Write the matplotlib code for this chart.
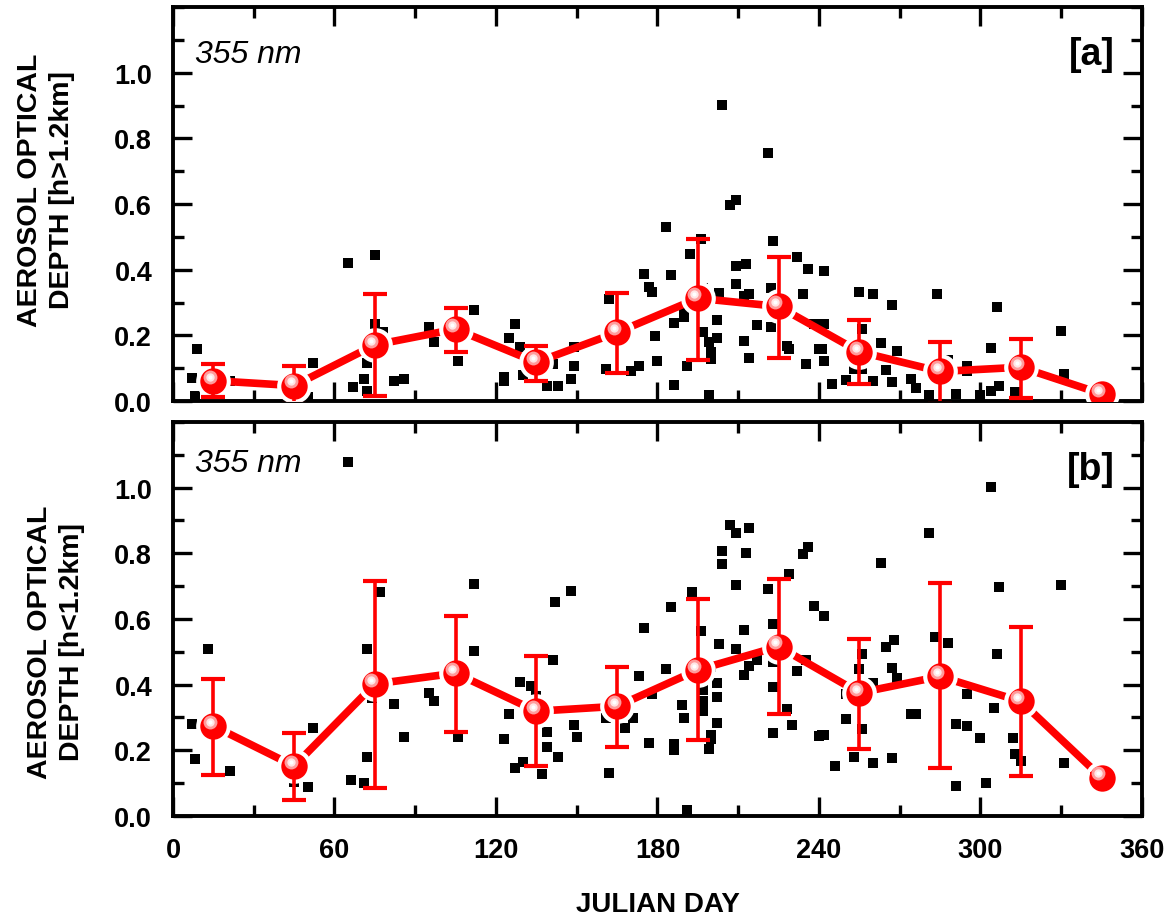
import matplotlib
matplotlib.use("Agg")
import matplotlib.pyplot as plt
import matplotlib.transforms as mtransforms
import numpy as np

plt.rcParams['font.family'] = ['Liberation Sans', 'DejaVu Sans']

# monthly means (centre day of each 30-day bin)
mean_day = [15, 45, 75, 105, 135, 165, 195, 225, 255, 285, 315, 345]

# panel [a]: h > 1.2 km
mean_a = [0.062, 0.047, 0.171, 0.219, 0.118, 0.209, 0.313, 0.288, 0.150, 0.090, 0.103, 0.022]
hi_a = [0.113, 0.108, 0.325, 0.282, 0.168, 0.330, 0.495, 0.439, 0.246, 0.181, 0.189, 0.026]
lo_a = [0.013, -0.010, 0.014, 0.150, 0.062, 0.086, 0.126, 0.131, 0.052, -0.010, 0.009, 0.018]

# panel [b]: h < 1.2 km
mean_b = [0.274, 0.152, 0.402, 0.435, 0.319, 0.334, 0.445, 0.516, 0.375, 0.425, 0.349, 0.117]
hi_b = [0.417, 0.254, 0.715, 0.609, 0.488, 0.455, 0.661, 0.723, 0.538, 0.708, 0.574, 0.127]
lo_b = [0.125, 0.049, 0.085, 0.255, 0.151, 0.211, 0.230, 0.309, 0.203, 0.145, 0.122, 0.107]

# daily values, panel [a]
day_a = [9, 7, 8, 21, 52, 50, 65, 75, 75, 78, 72, 71, 67, 72, 82, 86, 95, 97, 112, 106,
         127, 125, 129, 123, 123, 130, 141, 139, 143, 149, 148, 149, 162, 161, 170, 173,
         175, 177, 178, 183, 185, 179, 180, 186, 186, 190, 190, 191, 192, 196, 197, 197,
         199, 200, 200, 199, 202, 202, 203, 204, 207, 209, 209, 209, 213, 212, 214, 217,
         212, 214, 221, 223, 222, 222, 232, 236, 234, 228, 229, 235, 238, 240, 242, 242,
         241, 242, 245, 250, 255, 260, 267, 256, 253, 256, 260, 263, 265, 267, 269, 274,
         276, 281, 284, 288, 291, 295, 295, 300, 300, 304, 307, 304, 306, 313, 330, 331]
aod_a = [0.158, 0.070, 0.015, 0.060, 0.116, 0.012, 0.421, 0.445, 0.234, 0.209, 0.115, 0.068,
         0.042, 0.032, 0.062, 0.068, 0.224, 0.179, 0.277, 0.121, 0.236, 0.191, 0.164, 0.073,
         0.060, 0.078, 0.113, 0.047, 0.047, 0.108, 0.068, 0.165, 0.310, 0.098, 0.093, 0.108,
         0.388, 0.348, 0.332, 0.529, 0.383, 0.197, 0.121, 0.239, 0.049, 0.255, 0.285, 0.108,
         0.448, 0.492, 0.345, 0.209, 0.180, 0.148, 0.128, 0.017, 0.246, 0.191, 0.330, 0.903,
         0.598, 0.611, 0.411, 0.355, 0.418, 0.320, 0.327, 0.232, 0.184, 0.131, 0.754, 0.486,
         0.345, 0.224, 0.439, 0.401, 0.327, 0.168, 0.160, 0.113, 0.234, 0.158, 0.396, 0.234,
         0.158, 0.121, 0.052, 0.065, 0.333, 0.327, 0.294, 0.219, 0.098, 0.098, 0.062, 0.177,
         0.096, 0.058, 0.153, 0.068, 0.039, 0.017, 0.327, 0.125, 0.022, 0.108, 0.090, 0.010,
         0.017, 0.032, 0.047, 0.161, 0.285, 0.027, 0.212, 0.083]

# daily values, panel [b]
day_b = [13, 7, 8, 21, 52, 45, 50, 65, 66, 71, 72, 72, 77, 74, 82, 86, 95, 97, 112, 112,
         106, 129, 133, 135, 125, 123, 141, 139, 139, 143, 127, 130, 137, 142, 148, 149,
         150, 162, 161, 168, 171, 173, 175, 177, 178, 183, 185, 186, 186, 189, 190, 191,
         193, 196, 197, 197, 197, 200, 202, 202, 202, 200, 200, 199, 203, 204, 204, 207,
         209, 214, 213, 209, 209, 212, 214, 212, 217, 221, 223, 223, 223, 228, 230, 223,
         229, 234, 236, 232, 235, 238, 240, 242, 241, 242, 246, 250, 250, 253, 255, 256,
         256, 260, 260, 263, 265, 268, 267, 269, 267, 274, 276, 281, 283, 288, 291, 291,
         295, 295, 300, 302, 304, 305, 306, 307, 312, 313, 315, 330, 331, 348]
aod_b = [0.509, 0.279, 0.173, 0.137, 0.269, 0.102, 0.087, 1.077, 0.110, 0.100, 0.181, 0.509,
         0.681, 0.358, 0.341, 0.241, 0.373, 0.349, 0.705, 0.503, 0.240, 0.407, 0.395, 0.365,
         0.309, 0.233, 0.474, 0.256, 0.211, 0.181, 0.147, 0.165, 0.127, 0.651, 0.685, 0.276,
         0.240, 0.130, 0.297, 0.267, 0.297, 0.427, 0.572, 0.221, 0.370, 0.448, 0.637, 0.218,
         0.200, 0.337, 0.299, 0.019, 0.683, 0.564, 0.385, 0.350, 0.321, 0.455, 0.405, 0.362,
         0.282, 0.248, 0.235, 0.205, 0.524, 0.807, 0.767, 0.885, 0.862, 0.878, 0.802, 0.703,
         0.508, 0.567, 0.458, 0.430, 0.476, 0.691, 0.585, 0.469, 0.392, 0.327, 0.276, 0.252,
         0.738, 0.799, 0.819, 0.442, 0.476, 0.639, 0.243, 0.609, 0.248, 0.248, 0.152, 0.296,
         0.370, 0.181, 0.448, 0.494, 0.264, 0.405, 0.160, 0.769, 0.516, 0.536, 0.451, 0.420,
         0.176, 0.312, 0.312, 0.862, 0.546, 0.526, 0.279, 0.092, 0.372, 0.274, 0.236, 0.100,
         1.003, 0.329, 0.494, 0.698, 0.236, 0.188, 0.168, 0.703, 0.160, 0.120]

RED = '#ff0000'


def panel(ax, days, aod, means, lo, hi, ylabel, tag, txt_y, lab_xy):
    ax.plot(days, aod, 's', color='black', markersize=7, markeredgewidth=0, zorder=2)

    means = np.array(means)
    yerr = [means - np.array(lo), np.array(hi) - means]
    ax.plot(mean_day, means, '-', color=RED, lw=5.5, solid_capstyle='butt', zorder=3)
    # white ring gives the gap between line and ball
    ax.plot(mean_day, means, 'o', color='white', markersize=25, markeredgewidth=0, zorder=4)
    ax.errorbar(mean_day, means, yerr=yerr, fmt='none', ecolor=RED, elinewidth=2.6,
                capsize=8.5, capthick=3, zorder=5)
    ax.plot(mean_day, means, 'o', color=RED, markersize=19, markeredgewidth=0, zorder=6)
    # glossy highlight
    shine = mtransforms.offset_copy(ax.transData, fig=ax.figure, x=-2.6, y=3.0, units='points')
    ax.plot(mean_day, means, 'o', color='#ff9c9c', markersize=10, markeredgewidth=0,
            transform=shine, zorder=7)
    ax.plot(mean_day, means, 'o', color='#ffe6e6', markersize=6, markeredgewidth=0,
            transform=shine, zorder=8)
    ax.plot(mean_day, means, 'o', color='white', markersize=3, markeredgewidth=0,
            transform=shine, zorder=9)

    ax.set_xlim(0, 360)
    ax.set_ylim(0, 1.2)
    ax.set_xticks(np.arange(0, 361, 60))
    ax.set_xticks(np.arange(0, 361, 30), minor=True)
    ax.set_yticks(np.arange(0, 1.01, 0.2))
    ax.set_yticks(np.arange(0, 1.21, 0.1), minor=True)
    ax.yaxis.set_major_formatter(plt.FormatStrFormatter('%.1f'))
    ax.tick_params(which='both', direction='in', top=True, right=True, width=2.4,
                   labelsize=19.5, pad=15)
    ax.tick_params(which='major', length=14)
    ax.tick_params(which='minor', length=8)
    for lab in ax.get_xticklabels() + ax.get_yticklabels():
        lab.set_fontweight('bold')
    for s in ax.spines.values():
        s.set_linewidth(2.8)

    ax.set_ylabel(ylabel, fontsize=20.5, fontweight='bold', linespacing=1.3)
    ax.yaxis.set_label_coords(*lab_xy)
    ax.text(0.023, txt_y, '355 nm', transform=ax.transAxes, fontsize=23,
            style='italic', va='baseline', ha='left')
    ax.text(0.972, 0.855, tag, transform=ax.transAxes, fontsize=27,
            fontweight='bold', va='baseline', ha='right')


fig = plt.figure(figsize=(11.72, 9.2), dpi=100)
ax1 = fig.add_axes([0.1476, 0.5630, 0.8268, 0.4283])
ax2 = fig.add_axes([0.1476, 0.1120, 0.8268, 0.4283])

panel(ax1, day_a, aod_a, mean_a, lo_a, hi_a, 'AEROSOL OPTICAL\nDEPTH [h>1.2km]', '[a]',
      0.860, (-0.101, 0.538))
panel(ax2, day_b, aod_b, mean_b, lo_b, hi_b, 'AEROSOL OPTICAL\nDEPTH [h<1.2km]', '[b]',
      0.876, (-0.091, 0.444))

ax1.tick_params(labelbottom=False)
ax2.set_xlabel('JULIAN DAY', fontsize=20, fontweight='bold')
ax2.xaxis.set_label_coords(0.5, -0.19)

fig.savefig('out.png', dpi=100)
